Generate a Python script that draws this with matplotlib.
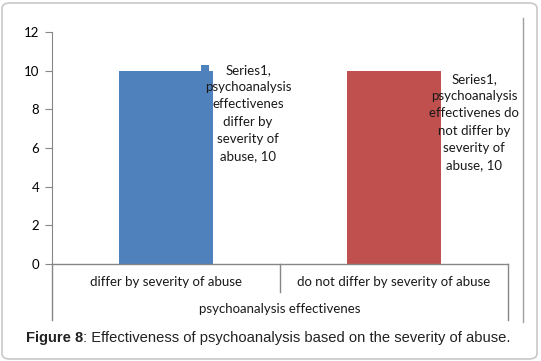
import matplotlib.pyplot as plt
from matplotlib.patches import FancyBboxPatch, Rectangle
from matplotlib.lines import Line2D

categories = ["differ by severity of abuse", "do not differ by severity of abuse"]
values = [10, 10]
colors = ["#4F81BD", "#C0504D"]
data_labels = [
    "Series1,\npsychoanalysis\neffectivenes\ndiffer by\nseverity of\nabuse, 10",
    "Series1,\npsychoanalysis\neffectivenes do\nnot differ by\nseverity of\nabuse, 10",
]
axis_title = "psychoanalysis effectivenes"
yticks = [0, 2, 4, 6, 8, 10, 12]

W, H = 541, 361
fig = plt.figure(figsize=(W / 100, H / 100), dpi=100)

# outer rounded frame
frame = FancyBboxPatch((2 / W, 2 / H), 535 / W, 356 / H,
                       boxstyle="round,pad=0,rounding_size=0.015",
                       transform=fig.transFigure, facecolor="white",
                       edgecolor="#c8c8c8", linewidth=1.2, zorder=-10)
fig.add_artist(frame)

def fx(px):
    return px / W

def fy(py):
    return 1 - py / H

ax = fig.add_axes([fx(52), fy(264), fx(508) - fx(52), fy(32) - fy(264)])
ax.set_facecolor("none")
x = list(range(len(categories)))
ax.bar(x, values, width=0.41, color=colors, zorder=2)

# small glitch above blue bar
ax.add_patch(Rectangle((x[0] + 0.155, 0), 0.035, values[0] + 0.3,
                       color=colors[0], zorder=1, linewidth=0))

ax.set_xlim(-0.5, 1.5)
ax.set_ylim(0, 12)
ax.set_yticks(yticks)
ax.set_xticks([])
for s in ["top", "right", "bottom"]:
    ax.spines[s].set_visible(False)
ax.spines["left"].set_color("#868686")
ax.tick_params(axis="y", length=5, color="#868686", labelsize=9.5, pad=4)
for lab in ax.get_yticklabels():
    lab.set_fontfamily("Lato")

gray = "#868686"
# category axis lines
trans = ax.get_xaxis_transform()
ylow = (264 - 320) / (264 - 32)
ymid = (264 - 292) / (264 - 32)
ax.add_line(Line2D([-0.5, 1.5], [0, 0], transform=trans, color=gray, lw=1, clip_on=False))
ax.add_line(Line2D([-0.5, -0.5], [0, ylow], transform=trans, color=gray, lw=1, clip_on=False))
ax.add_line(Line2D([0.5, 0.5], [0, ymid], transform=trans, color=gray, lw=1, clip_on=False))
ax.add_line(Line2D([1.5, 1.5], [0, ylow], transform=trans, color=gray, lw=1, clip_on=False))

for i, c in enumerate(categories):
    ax.text(i, (264 - 282) / 232, c, transform=trans, ha="center", va="center",
            fontsize=9.5, family="Lato", color="#1a1a1a")
ax.text(0.5, (264 - 309) / 232, axis_title, transform=trans, ha="center", va="center",
        fontsize=9.5, family="Lato", color="#1a1a1a")

# data labels
label_pos = [(248, 113), (474, 122)]
for (px, py), t in zip(label_pos, data_labels):
    fig.text(fx(px), fy(py), t, ha="center", va="center", fontsize=9.5,
             family="Lato", linespacing=1.52, color="#1a1a1a")

# chart right border
fig.add_artist(Line2D([fx(523), fx(523)], [fy(18), fy(322)], color="#a0a0a0", lw=1))

# caption
cap1 = fig.text(fx(26), fy(338), "Figure 8", fontsize=10.6, fontweight="bold",
                family="Liberation Sans", va="center", ha="left", color="#222222")
fig.canvas.draw()
bb = cap1.get_window_extent()
fig.text(bb.x1 / W, fy(338), ": Effectiveness of psychoanalysis based on the severity of abuse.",
         fontsize=10.6, family="Liberation Sans", va="center", ha="left", color="#222222")

fig.savefig("out.png", dpi=100)
